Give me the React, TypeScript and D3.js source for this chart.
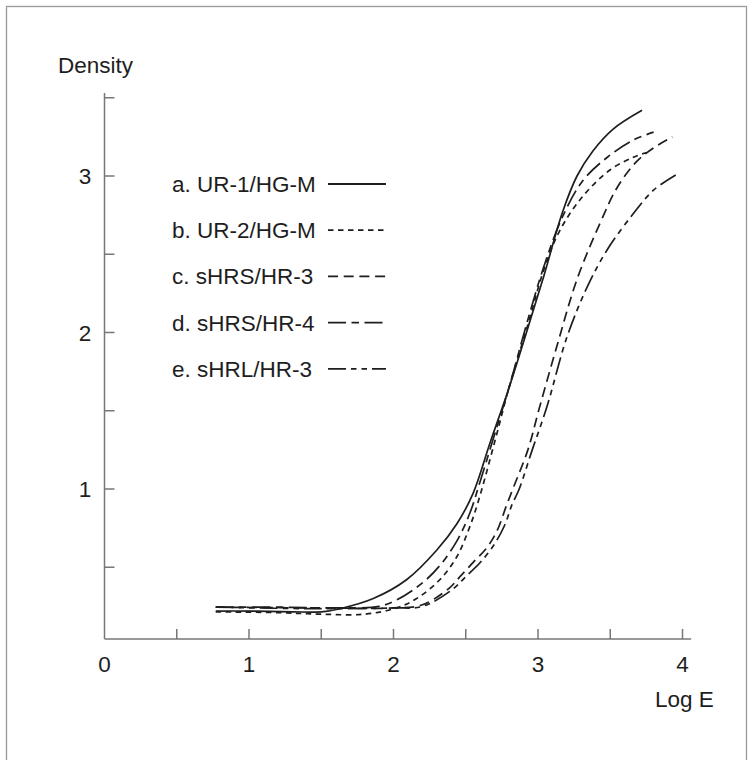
import React from 'react';
import * as d3 from 'd3';

// characteristic curves (Log E vs Density)
const legendLabels = ['a. UR-1/HG-M', 'b. UR-2/HG-M', 'c. sHRS/HR-3', 'd. sHRS/HR-4', 'e. sHRL/HR-3'];
const dashes = ['none', '5.5,4.5', '10,5.7', '18,5.5,7.5,5.5', '18,5,5.5,5,5.5,5'];

const aLogE = [0.77, 1.0, 1.3, 1.5, 1.63, 1.86, 2.09, 2.3, 2.44, 2.55, 2.67, 2.79, 2.91, 3.04, 3.17, 3.27, 3.38, 3.52, 3.72];
const aDensity = [0.22, 0.22, 0.215, 0.215, 0.235, 0.3, 0.42, 0.61, 0.78, 0.97, 1.3, 1.62, 1.97, 2.36, 2.77, 3.0, 3.16, 3.3, 3.42];

const bLogE = [0.77, 1.2, 1.5, 1.8, 2.02, 2.16, 2.32, 2.44, 2.52, 2.58, 2.7, 2.8, 2.93, 3.04, 3.15, 3.31, 3.5, 3.66, 3.75];
const bDensity = [0.215, 0.21, 0.2, 0.2, 0.24, 0.3, 0.42, 0.57, 0.74, 0.9, 1.3, 1.65, 2.05, 2.4, 2.65, 2.87, 3.04, 3.12, 3.15];

const cLogE = [0.77, 1.5, 2.0, 2.2, 2.39, 2.46, 2.55, 2.65, 2.72, 2.78, 2.83, 2.93, 3.01, 3.13, 3.27, 3.43, 3.55, 3.68, 3.8, 3.93];
const cDensity = [0.245, 0.24, 0.24, 0.26, 0.37, 0.44, 0.53, 0.63, 0.74, 0.89, 1.01, 1.25, 1.52, 1.91, 2.34, 2.7, 2.93, 3.09, 3.18, 3.25];

const dLogE = [0.77, 1.2, 1.6, 1.9, 2.02, 2.2, 2.32, 2.44, 2.53, 2.6, 2.7, 2.8, 2.92, 3.04, 3.17, 3.31, 3.48, 3.66, 3.8];
const dDensity = [0.245, 0.245, 0.24, 0.25, 0.29, 0.4, 0.51, 0.67, 0.85, 1.05, 1.35, 1.65, 2.05, 2.42, 2.74, 2.97, 3.12, 3.23, 3.28];

const eLogE = [0.77, 1.5, 2.0, 2.2, 2.41, 2.5, 2.6, 2.7, 2.77, 2.82, 2.87, 2.96, 3.06, 3.2, 3.34, 3.48, 3.66, 3.8, 3.96];
const eDensity = [0.245, 0.235, 0.24, 0.25, 0.36, 0.44, 0.53, 0.65, 0.77, 0.9, 1.0, 1.25, 1.52, 1.97, 2.29, 2.53, 2.76, 2.91, 3.01];

const xTicks = [0.5, 1, 1.5, 2, 2.5, 3, 3.5, 4];
const xTickLabels = ['0', '1', '2', '3', '4'];
const yTicks = [0.5, 1, 1.5, 2, 2.5, 3, 3.5];
const yTickLabels = ['1', '2', '3'];

const W = 749, H = 760;
const font = '"Liberation Sans", Arial, Helvetica, sans-serif';
const ink = '#1e1e1e';
const axisCol = '#777';

const x = d3.scaleLinear().domain([0, 4]).range([104.5, 682.5]);
const y = d3.scaleLinear().domain([0, 3.5]).range([645.5, 97.75]);
const floorD = 0.042; // x axis sits slightly above zero
const xEnd = 4.06;
const yTop = 3.53;

const series = [
  [aLogE, aDensity], [bLogE, bDensity], [cLogE, cDensity], [dLogE, dDensity], [eLogE, eDensity]
].map(([xs, ys]) => xs.map((v, i) => [v, ys[i]] as [number, number]));

const line = d3.line<[number, number]>()
  .x(d => x(d[0]))
  .y(d => y(d[1]))
  .curve(d3.curveCatmullRom.alpha(0.5));

export default function App() {
  const y0 = y(floorD);
  return (
    <svg width={W} height={H} style={{ position: 'absolute', left: 0, top: 0, background: '#fff' }}
      fontFamily={font}>
      <rect x={6.5} y={6.5} width={740} height={800} fill="none" stroke="#999" strokeWidth={1.3} />

      {/* axes */}
      <line x1={x(0)} x2={x(0)} y1={y(yTop)} y2={y0} stroke={axisCol} strokeWidth={1.5} />
      <line x1={x(0)} x2={x(xEnd)} y1={y0} y2={y0} stroke={axisCol} strokeWidth={1.5} />
      {yTicks.map(t => (
        <line key={'yt' + t} x1={x(0)} x2={x(0) + 10} y1={y(t)} y2={y(t)} stroke={axisCol} strokeWidth={1.5} />
      ))}
      {xTicks.map(t => (
        <line key={'xt' + t} x1={x(t)} x2={x(t)} y1={y0} y2={y0 - 10} stroke={axisCol} strokeWidth={1.5} />
      ))}
      {xTickLabels.map(l => (
        <text key={'xl' + l} x={x(+l)} y={672} textAnchor="middle" fontSize={22.5} fill={ink}>{l}</text>
      ))}
      {yTickLabels.map(l => (
        <text key={'yl' + l} x={85} y={y(+l) + 8} textAnchor="middle" fontSize={22.5} fill={ink}>{l}</text>
      ))}
      <text x={58} y={73} fontSize={22.5} fill={ink}>Density</text>
      <text x={655} y={707} fontSize={22.5} fill={ink}>Log E</text>

      {/* curves */}
      {series.map((s, i) => (
        <path key={'c' + i} d={line(s) || ''} fill="none" stroke={ink} strokeWidth={1.7}
          strokeDasharray={dashes[i]} />
      ))}

      {/* legend */}
      {legendLabels.map((l, i) => {
        const ly = 184 + i * 46.2;
        return (
          <g key={'lg' + i}>
            <text x={172} y={ly + 8} fontSize={22.5} fill={ink}>{l}</text>
            <line x1={328} x2={386} y1={ly} y2={ly} stroke={ink} strokeWidth={1.8}
              strokeDasharray={dashes[i]} />
          </g>
        );
      })}
    </svg>
  );
}
